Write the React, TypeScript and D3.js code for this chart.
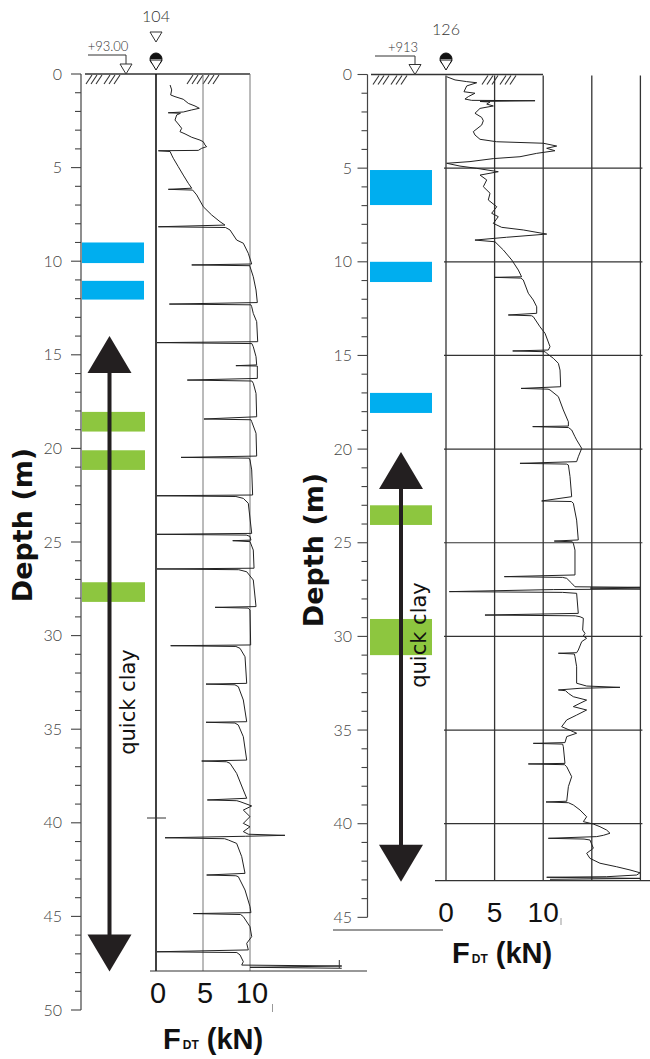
import React from "react";
import * as d3 from "d3";

// ---------- data ----------
// [depth (m), force F_DT (kN)]
const leftTrace: number[][] = [
[0.59,1.5],[0.85,1.67],[1.12,1.56],[1.21,2.02],[1.35,2.9],[1.57,3.44],[1.71,4.15],[1.83,4.61],[1.92,3.8],[2.03,2.9],[2.07,1.3],[2.1,2.6],[2.19,2.2],[2.46,2.02],[2.67,2.37],[2.9,2.73],[3.08,2.55],[3.2,3.09],[3.38,3.8],[3.53,4.68],[3.62,5.03],[3.79,5.21],[3.88,5.39],[3.97,4.86],[4.08,4.5],[4.1,0.25],[4.14,1.5],[4.33,1.67],[4.5,1.84],[4.95,2.37],[5.4,2.9],[5.84,3.44],[6.1,3.8],[6.16,1.31],[6.2,3.9],[6.46,4.33],[7.09,5.03],[7.53,5.92],[7.89,6.81],[8.07,7.34],[8.16,0.25],[8.2,7.4],[8.33,7.87],[8.87,8.58],[9.04,9.29],[9.58,9.82],[10.15,10.18],[10.2,3.8],[10.24,10.0],[10.29,10.0],[10.83,10.35],[11.54,10.64],[12.21,10.78],[12.29,1.42],[12.33,10.1],[12.43,10.18],[12.79,10.35],[13.23,10.71],[14.3,10.82],[14.35,0.1],[14.4,10.2],[14.57,10.35],[15.1,10.64],[15.54,10.71],[15.58,8.5],[15.6,10.78],[16.26,10.78],[16.35,3.33],[16.4,10.2],[16.52,10.35],[17.06,10.64],[18.31,10.71],[18.43,5.1],[18.47,10.1],[18.57,10.18],[19.19,10.64],[20.41,10.71],[20.48,2.66],[20.52,9.9],[20.62,10.0],[21.15,10.18],[22.49,10.28],[22.53,0.1],[22.57,8.5],[22.67,9.29],[22.93,9.82],[24.54,10.18],[24.59,0.1],[24.63,9.6],[24.7,10.0],[24.9,10.1],[24.93,8.16],[24.98,10.0],[25.43,10.35],[26.4,10.43],[26.44,0.1],[26.48,8.8],[26.59,9.65],[27.03,10.35],[28.45,10.64],[28.49,6.28],[28.53,9.8],[28.63,10.0],[30.5,10.07],[30.54,1.56],[30.58,8.5],[30.68,8.94],[31.13,9.47],[32.55,9.65],[32.59,5.32],[32.63,8.4],[32.73,8.76],[33.44,9.29],[34.6,9.65],[34.63,5.32],[34.67,8.4],[34.78,8.76],[35.4,9.29],[36.65,9.65],[36.7,4.86],[36.74,7.5],[36.82,7.87],[37.36,8.58],[38.25,9.29],[38.69,9.65],[38.78,5.46],[38.82,8.6],[38.87,8.94],[39.1,10.18],[39.32,9.29],[39.67,10.0],[40.03,9.29],[40.21,10.0],[40.47,9.29],[40.61,9.82],[40.67,13.72],[40.72,9.5],[40.8,0.96],[40.85,7.3],[40.92,7.7],[41.1,8.58],[41.81,9.12],[42.7,9.47],[42.79,5.39],[42.83,8.5],[42.88,8.76],[43.59,9.47],[44.48,10.0],[44.8,10.1],[44.85,3.97],[44.9,9.0],[45.01,9.29],[45.55,10.0],[46.08,10.18],[46.44,9.65],[46.79,9.82],[46.89,0.1],[46.93,8.6],[47.06,8.94],[47.42,9.29],[47.6,9.12],[47.65,19.76],[47.72,10.0],[47.77,19.76]
];

const rightTrace: number[][] = [
[0.12,0.07],[0.29,0.93],[0.38,2.13],[0.44,3.16],[0.61,2.13],[0.92,1.85],[1.0,2.98],[1.18,2.3],[1.31,1.95],[1.38,2.64],[1.4,9.16],[1.44,3.5],[1.47,4.53],[1.58,4.19],[1.68,4.87],[1.81,3.5],[2.07,2.98],[2.29,3.67],[2.47,3.84],[2.7,3.67],[3.05,2.81],[3.23,2.98],[3.46,3.5],[3.59,5.21],[3.67,10.01],[3.82,11.39],[3.94,10.36],[4.07,11.21],[4.21,9.33],[4.39,7.61],[4.49,4.87],[4.65,2.47],[4.74,0.07],[4.89,1.44],[5.01,3.16],[5.19,5.38],[5.37,3.5],[5.63,4.19],[5.99,3.84],[6.34,4.53],[6.7,4.35],[7.06,5.22],[7.41,4.7],[7.59,5.38],[7.95,4.87],[8.16,5.73],[8.3,7.95],[8.52,10.36],[8.69,6.24],[8.84,2.98],[8.93,5.04],[9.37,5.9],[9.9,6.76],[10.44,7.44],[10.8,7.78],[10.83,4.97],[10.87,7.7],[10.97,7.95],[11.68,8.47],[12.04,8.98],[12.4,9.33],[12.75,9.33],[12.84,6.41],[12.88,8.8],[12.93,8.98],[13.47,9.67],[13.82,10.19],[14.53,10.7],[14.71,10.53],[14.76,6.86],[14.8,10.2],[14.89,10.36],[15.15,11.04],[15.42,11.56],[15.78,11.73],[16.67,11.8],[16.76,7.72],[16.8,10.5],[16.84,10.7],[17.2,11.56],[17.91,12.07],[18.54,12.59],[18.77,12.59],[18.8,8.92],[18.85,12.6],[18.98,12.93],[19.34,13.27],[19.51,13.44],[19.96,13.96],[20.41,13.61],[20.67,13.44],[20.76,7.61],[20.8,12.4],[20.85,12.59],[21.47,12.76],[22.54,12.93],[22.77,9.84],[22.8,12.9],[22.89,13.1],[23.79,13.44],[24.85,13.61],[24.91,11.14],[24.95,13.0],[25.03,13.1],[25.39,13.27],[26.72,13.27],[26.81,6.0],[26.85,12.0],[26.9,12.42],[27.16,12.93],[27.35,13.27],[27.38,19.96],[27.42,14.85],[27.47,19.96],[27.5,11.04],[27.61,0.34],[27.65,12.0],[27.7,13.44],[28.77,13.61],[28.86,4.01],[28.9,13.3],[28.95,13.79],[29.03,14.13],[29.66,14.06],[29.84,14.3],[29.98,14.13],[30.1,14.47],[30.28,13.96],[30.73,13.61],[30.87,13.44],[30.9,11.56],[30.94,13.2],[31.08,13.27],[31.62,13.44],[32.5,13.44],[32.65,14.47],[32.72,17.9],[32.77,13.79],[32.86,11.56],[32.9,12.3],[33.04,12.59],[33.22,13.1],[33.4,14.47],[33.57,13.79],[33.75,13.1],[33.93,14.47],[34.2,13.44],[34.46,12.42],[34.82,11.9],[35.09,13.1],[35.17,13.44],[35.35,12.42],[35.67,12.24],[35.71,8.98],[35.75,12.0],[35.89,12.07],[36.78,12.24],[36.81,8.47],[36.85,12.2],[36.96,12.42],[37.49,12.93],[38.02,12.59],[38.8,12.42],[38.84,10.29],[38.88,12.6],[39.0,13.1],[39.27,13.79],[39.63,14.47],[39.89,14.13],[40.02,15.16],[40.16,15.84],[40.34,16.53],[40.51,16.87],[40.62,16.19],[40.69,15.5],[40.78,10.53],[40.82,14.2],[40.87,14.81],[41.31,15.16],[41.58,14.47],[41.85,14.81],[42.11,15.84],[42.3,17.56],[42.47,18.93],[42.62,19.96],[42.74,19.62],[42.83,16.53],[42.86,10.36],[42.92,19.96],[42.97,10.7]
];

// sample intervals [top depth, bottom depth]
const leftBlue: number[][] = [[9.0, 10.1], [11.05, 12.05]];
const leftGreen: number[][] = [[18.05, 19.1], [20.1, 21.15], [27.15, 28.2]];
const rightBlue: number[][] = [[5.1, 6.97], [10.0, 11.08], [17.0, 18.07]];
const rightGreen: number[][] = [[23.0, 24.05], [29.07, 31.0]];

// quick clay extent [top tip, bottom tip]
const leftQuickClay = [14.0, 47.95];
const rightQuickClay = [20.15, 43.1];

const leftDepthLabels = [0, 5, 10, 15, 20, 25, 30, 35, 40, 45, 50];
const rightDepthLabels = [0, 5, 10, 15, 20, 25, 30, 35, 40, 45];
const forceLabels = [0, 5, 10];
const rightForceGrid = [0, 5, 10, 15, 20];
const rightDepthGrid = [5, 10, 15, 20, 25, 30, 35, 40];
const boreholes = ["104", "126"];
const elevations = ["+93.00", "+913"];

const BLUE = "#00AEEF";
const GREEN = "#8DC63F";
const DARK = "#231f20";
const THIN = "Lato, 'DejaVu Sans', sans-serif";
const ARIAL = "'Liberation Sans', Arial, sans-serif";

function DepthAxis({ x, scale, max, labels, labelX }: any) {
  const ticks = d3.range(0, max + 1);
  return (
    <g>
      <line x1={x} x2={x} y1={scale(0)} y2={scale(max)} stroke="#444" strokeWidth={1.2} />
      {ticks.map((t: number) => (
        <line key={t} x1={x - (t % 5 === 0 ? 10 : 6)} x2={x} y1={scale(t)} y2={scale(t)} stroke="#444" strokeWidth={1.1} />
      ))}
      {labels.map((t: number) => (
        <text key={t} x={labelX} y={scale(t)} dy="0.35em" textAnchor="end" fontFamily={THIN} fontWeight={300} fontSize={16} fill="#444">{t}</text>
      ))}
    </g>
  );
}

function Hatch({ xs, y }: any) {
  return (
    <g>
      {xs.map((x: number, i: number) => (
        <line key={i} x1={x} y1={y + 10} x2={x + 6} y2={y + 1} stroke="#333" strokeWidth={1.1} />
      ))}
    </g>
  );
}

function Pin({ cx, cy }: any) {
  return (
    <g>
      <circle cx={cx} cy={cy} r={6} fill="white" stroke="#111" strokeWidth={1} />
      <path d={`M${cx - 6},${cy} A6,6 0 0 1 ${cx + 6},${cy} Z`} fill="#111" />
      <polygon points={`${cx - 6},${cy + 1} ${cx + 6},${cy + 1} ${cx},${cy + 11}`} fill="white" stroke="#111" strokeWidth={1} />
    </g>
  );
}

function Elev({ text, textX, textY, x0, tipX, lineY, groundY }: any) {
  return (
    <g>
      <text x={textX} y={textY} textAnchor="middle" fontFamily={THIN} fontWeight={300} fontSize={13} fill="#333">{text}</text>
      <polyline points={`${x0},${lineY} ${tipX},${lineY} ${tipX},${groundY - 10}`} fill="none" stroke="#333" strokeWidth={1} />
      <polygon points={`${tipX - 6},${groundY - 10} ${tipX + 6},${groundY - 10} ${tipX},${groundY}`} fill="white" stroke="#333" strokeWidth={1} />
    </g>
  );
}

function Arrow({ x, yTop, yBot }: any) {
  const hl = 37, hw = 22;
  return (
    <g>
      <line x1={x} x2={x} y1={yTop + hl - 2} y2={yBot - hl + 2} stroke={DARK} strokeWidth={4} />
      <polygon points={`${x},${yTop} ${x - hw},${yTop + hl} ${x + hw},${yTop + hl}`} fill={DARK} />
      <polygon points={`${x},${yBot} ${x - hw},${yBot - hl} ${x + hw},${yBot - hl}`} fill={DARK} />
    </g>
  );
}

function FLabel({ x, y }: any) {
  return (
    <text x={x} y={y} fontFamily={ARIAL} fontWeight="bold" fill="#111">
      <tspan fontSize={29}>F</tspan>
      <tspan fontSize={12} dx={2}>DT</tspan>
      <tspan fontSize={29}> (kN)</tspan>
    </text>
  );
}

export default function App() {
  const lY = d3.scaleLinear().domain([0, 50]).range([74, 1010]);
  const rY = d3.scaleLinear().domain([0, 45]).range([74.5, 917.35]);
  const lX = d3.scaleLinear().domain([0, 10]).range([156, 250]);
  const rX = d3.scaleLinear().domain([0, 10]).range([446, 543.2]);

  const lLine = d3.line<number[]>().x((p) => lX(p[1])).y((p) => lY(p[0]));
  const rLine = d3.line<number[]>().x((p) => rX(p[1])).y((p) => rY(p[0]));

  const lBottom = 971;
  const rBottom = 880.7;

  return (
    <div style={{ position: "absolute", left: 0, top: 0 }}>
      <svg width={650} height={1059} style={{ display: "block", background: "white" }}>
        {/* ---------- LEFT PROFILE ---------- */}
        {leftBlue.map((b, i) => (
          <rect key={"lb" + i} x={82} width={62} y={lY(b[0])} height={lY(b[1]) - lY(b[0])} fill={BLUE} />
        ))}
        {leftGreen.map((b, i) => (
          <rect key={"lg" + i} x={82} width={63} y={lY(b[0])} height={lY(b[1]) - lY(b[0])} fill={GREEN} />
        ))}
        <DepthAxis x={81} scale={lY} max={50} labels={leftDepthLabels} labelX={62} />
        <Arrow x={109.5} yTop={lY(leftQuickClay[0])} yBot={lY(leftQuickClay[1])} />
        <text transform={`translate(128,702) rotate(-90)`} textAnchor="middle" dominantBaseline="central" fontFamily="'DejaVu Sans', sans-serif" fontSize={21} fill="#111">quick clay</text>
        <text transform={`translate(22,525) rotate(-90)`} textAnchor="middle" dominantBaseline="central" fontFamily="'DejaVu Sans', sans-serif" fontWeight="bold" fontSize={27} fill="#111">Depth (m)</text>

        {/* ground */}
        <line x1={85} x2={250} y1={lY(0)} y2={lY(0)} stroke="#333" strokeWidth={1.3} />
        <Hatch xs={[86, 91, 96, 104, 109, 114]} y={lY(0)} />
        <Hatch xs={[187, 192, 197, 203, 208, 213]} y={lY(0)} />
        {forceLabels.slice(1).map((f) => (
          <line key={"lv" + f} x1={lX(f)} x2={lX(f)} y1={lY(0)} y2={lBottom} stroke="#777" strokeWidth={1} />
        ))}
        <line x1={lX(0)} x2={lX(0)} y1={lY(0)} y2={lBottom} stroke="#111" strokeWidth={1.6} />
        <line x1={147} x2={166} y1={818} y2={818} stroke="#333" strokeWidth={1} />
        <path d={lLine(leftTrace) || ""} fill="none" stroke="#222" strokeWidth={1} strokeLinejoin="round" />
        <line x1={150} x2={367} y1={lBottom} y2={lBottom} stroke="#333" strokeWidth={1.2} />
        <line x1={lX(19.5)} x2={lX(19.5)} y1={lBottom - 11} y2={lBottom - 3} stroke="#333" strokeWidth={1} />
        {forceLabels.map((f) => (
          <text key={"lt" + f} x={lX(f) + 2} y={1003} textAnchor="middle" fontFamily={ARIAL} fontSize={29} fill="#111">{f}</text>
        ))}
        <line x1={272.5} x2={272.5} y1={1004} y2={1012} stroke="#999" strokeWidth={1} />
        <FLabel x={163} y={1049} />

        {/* header left */}
        <text x={156} y={22} textAnchor="middle" fontFamily={THIN} fontWeight={300} fontSize={16} fill="#333">{boreholes[0]}</text>
        <polygon points="150,32 162,32 156,42" fill="white" stroke="#333" strokeWidth={1} />
        <Pin cx={156} cy={59} />
        <Elev text={elevations[0]} textX={108} textY={51} x0={88} tipX={126} lineY={55} groundY={lY(0)} />

        {/* ---------- RIGHT PROFILE ---------- */}
        {rightBlue.map((b, i) => (
          <rect key={"rb" + i} x={370} width={62} y={rY(b[0])} height={rY(b[1]) - rY(b[0])} fill={BLUE} />
        ))}
        {rightGreen.map((b, i) => (
          <rect key={"rg" + i} x={370} width={62} y={rY(b[0])} height={rY(b[1]) - rY(b[0])} fill={GREEN} />
        ))}
        <DepthAxis x={367.5} scale={rY} max={45} labels={rightDepthLabels} labelX={352} />
        <Arrow x={401} yTop={rY(rightQuickClay[0])} yBot={rY(rightQuickClay[1])} />
        <text transform={`translate(419,635) rotate(-90)`} textAnchor="middle" dominantBaseline="central" fontFamily="'DejaVu Sans', sans-serif" fontSize={21} fill="#111">quick clay</text>
        <text transform={`translate(313,550) rotate(-90)`} textAnchor="middle" dominantBaseline="central" fontFamily="'DejaVu Sans', sans-serif" fontWeight="bold" fontSize={27} fill="#111">Depth (m)</text>

        <line x1={371} x2={543} y1={rY(0)} y2={rY(0)} stroke="#333" strokeWidth={1.3} />
        <Hatch xs={[373, 378, 383, 391, 396, 401]} y={rY(0)} />
        <Hatch xs={[482, 487, 492, 500, 505, 510]} y={rY(0)} />
        {rightDepthGrid.map((d) => (
          <line key={"rh" + d} x1={rX(0) - 2} x2={rX(20) + 2} y1={rY(d)} y2={rY(d)} stroke="#333" strokeWidth={1.2} />
        ))}
        {rightForceGrid.map((f) => (
          <line key={"rv" + f} x1={rX(f)} x2={rX(f)} y1={rY(0) + 1} y2={rBottom} stroke="#333" strokeWidth={1.3} />
        ))}
        <path d={rLine(rightTrace) || ""} fill="none" stroke="#222" strokeWidth={1} strokeLinejoin="round" />
        <line x1={435} x2={650} y1={rBottom} y2={rBottom} stroke="#333" strokeWidth={1.2} />
        <line x1={333} x2={443} y1={930} y2={930} stroke="#333" strokeWidth={1} />
        {forceLabels.map((f) => (
          <text key={"rt" + f} x={rX(f)} y={922} textAnchor="middle" fontFamily={ARIAL} fontSize={28} fill="#111">{f}</text>
        ))}
        <line x1={561} x2={561} y1={918} y2={925} stroke="#999" strokeWidth={1} />
        <FLabel x={452} y={963} />

        {/* header right */}
        <text x={446} y={35} textAnchor="middle" fontFamily={THIN} fontWeight={300} fontSize={16} fill="#333">{boreholes[1]}</text>
        <Pin cx={446} cy={59} />
        <Elev text={elevations[1]} textX={403} textY={52} x0={375} tipX={415} lineY={56} groundY={rY(0)} />
      </svg>
    </div>
  );
}
